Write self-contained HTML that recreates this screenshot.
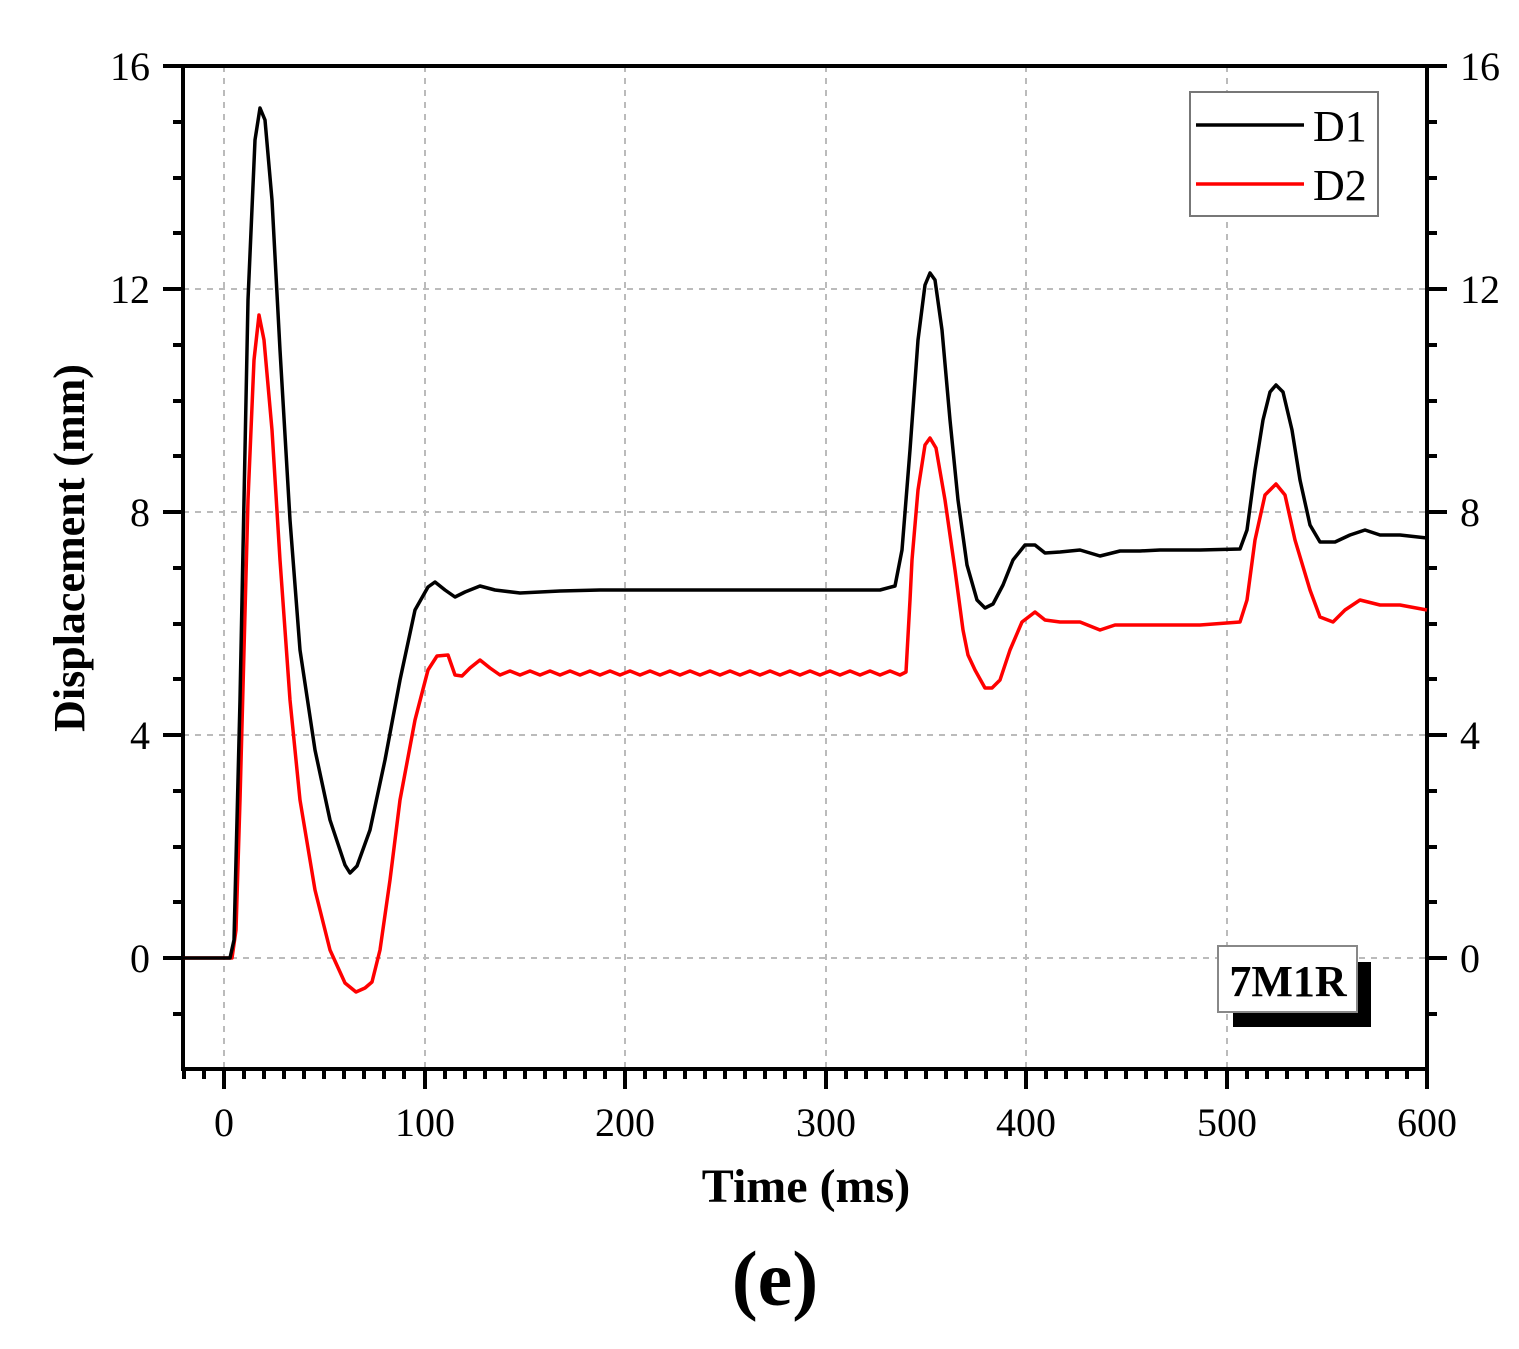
<!DOCTYPE html>
<html><head><style>body{margin:0;background:#fff}</style></head><body>
<svg width="1519" height="1344" xmlns="http://www.w3.org/2000/svg" font-family="Liberation Serif, serif">
<g stroke="#bbb" stroke-width="2" stroke-dasharray="6,6">
<line x1="224" y1="66" x2="224" y2="1069"/><line x1="425" y1="66" x2="425" y2="1069"/><line x1="625" y1="66" x2="625" y2="1069"/><line x1="826" y1="66" x2="826" y2="1069"/><line x1="1026" y1="66" x2="1026" y2="1069"/><line x1="1227" y1="66" x2="1227" y2="1069"/>
<line x1="183" y1="289" x2="1427" y2="289"/><line x1="183" y1="512" x2="1427" y2="512"/><line x1="183" y1="735" x2="1427" y2="735"/><line x1="183" y1="958" x2="1427" y2="958"/>
</g>
<g stroke="#000" stroke-width="4">
<path d="M183 66h-20M183 122h-10M183 178h-10M183 233h-10M183 289h-20M183 345h-10M183 401h-10M183 456h-10M183 512h-20M183 568h-10M183 624h-10M183 679h-10M183 735h-20M183 791h-10M183 847h-10M183 902h-10M183 958h-20M183 1014h-10"/>
<path d="M1427 66h20M1427 122h10M1427 178h10M1427 233h10M1427 289h20M1427 345h10M1427 401h10M1427 456h10M1427 512h20M1427 568h10M1427 624h10M1427 679h10M1427 735h20M1427 791h10M1427 847h10M1427 902h10M1427 958h20M1427 1014h10"/>
<path d="M184 1069v10M204 1069v10M224 1069v20M244 1069v10M264 1069v10M284 1069v10M304 1069v10M324 1069v10M344 1069v10M364 1069v10M384 1069v10M404 1069v10M425 1069v20M445 1069v10M465 1069v10M485 1069v10M505 1069v10M525 1069v10M545 1069v10M565 1069v10M585 1069v10M605 1069v10M625 1069v20M645 1069v10M665 1069v10M685 1069v10M705 1069v10M725 1069v10M745 1069v10M765 1069v10M785 1069v10M805 1069v10M826 1069v20M846 1069v10M866 1069v10M886 1069v10M906 1069v10M926 1069v10M946 1069v10M966 1069v10M986 1069v10M1006 1069v10M1026 1069v20M1046 1069v10M1066 1069v10M1086 1069v10M1106 1069v10M1126 1069v10M1146 1069v10M1166 1069v10M1186 1069v10M1206 1069v10M1227 1069v20M1247 1069v10M1267 1069v10M1287 1069v10M1307 1069v10M1327 1069v10M1347 1069v10M1367 1069v10M1387 1069v10M1407 1069v10M1427 1069v20"/>
</g>
<rect x="183" y="66" width="1244" height="1003" fill="none" stroke="#000" stroke-width="4"/>
<polyline fill="none" stroke="#f00" stroke-width="3.5" stroke-linejoin="round" points="183,958 232,958 236,930 240,800 248,500 254,360 259,315 264,340 272,430 280,560 290,700 300,800 315,890 330,950 345,983 356,992 365,988 372,982 380,950 390,880 400,800 415,720 428,670 437,656 448,655 455,675 462,676 470,668 480,660 490,668 500,675 510,671 520,675 530,671 540,675 550,671 560,675 570,671 580,675 590,671 600,675 610,671 620,675 630,671 640,675 650,671 660,675 670,671 680,675 690,671 700,675 710,671 720,675 730,671 740,675 750,671 760,675 770,671 780,675 790,671 800,675 810,671 820,675 830,671 840,675 850,671 860,675 870,671 880,675 890,671 900,675 906,672 910,600 912,560 918,490 925,445 930,438 936,448 945,500 955,570 963,630 968,655 975,670 985,688 992,688 1000,680 1010,650 1022,622 1035,612 1045,620 1060,622 1080,622 1100,630 1115,625 1130,625 1160,625 1200,625 1240,622 1247,600 1255,540 1265,495 1276,484 1285,495 1295,540 1310,590 1320,617 1333,622 1345,610 1360,600 1380,605 1400,605 1427,610"/>
<polyline fill="none" stroke="#000" stroke-width="3.5" stroke-linejoin="round" points="183,958 230,958 234,940 240,700 248,300 255,140 260,108 265,120 272,200 280,350 290,520 300,650 315,750 330,820 345,865 350,873 357,866 370,830 385,760 400,680 415,610 428,587 435,582 445,590 455,597 465,592 480,586 495,590 520,593 560,591 600,590 700,590 800,590 880,590 895,586 902,550 910,450 918,340 925,285 930,273 935,280 942,330 950,420 958,500 967,565 977,600 985,608 993,604 1003,585 1013,560 1025,545 1035,545 1045,553 1060,552 1080,550 1100,556 1120,551 1140,551 1160,550 1200,550 1240,549 1247,530 1255,470 1263,420 1270,392 1276,385 1283,392 1292,430 1300,480 1310,525 1320,542 1335,542 1350,535 1365,530 1380,535 1400,535 1427,538"/>
<rect x="1190" y="92" width="188" height="124" fill="#fff" stroke="#777" stroke-width="2"/>
<line x1="1196" y1="125" x2="1304" y2="125" stroke="#000" stroke-width="3.5"/>
<line x1="1196" y1="184" x2="1304" y2="184" stroke="#f00" stroke-width="3.5"/>
<text x="1313" y="141" font-size="44">D1</text><text x="1313" y="200" font-size="44">D2</text>
<rect x="1233" y="962" width="138" height="65" fill="#000"/>
<rect x="1218" y="946" width="139" height="66" fill="#fff" stroke="#888" stroke-width="2"/>
<text x="1288" y="996" font-size="44" font-weight="bold" text-anchor="middle">7M1R</text>
<g font-size="40" text-anchor="end">
<text x="150" y="80">16</text><text x="150" y="303">12</text><text x="150" y="526">8</text><text x="150" y="749">4</text><text x="150" y="972">0</text>
</g>
<g font-size="40">
<text x="1460" y="80">16</text><text x="1460" y="303">12</text><text x="1460" y="526">8</text><text x="1460" y="749">4</text><text x="1460" y="972">0</text>
</g>
<g font-size="40" text-anchor="middle">
<text x="224" y="1136">0</text><text x="425" y="1136">100</text><text x="625" y="1136">200</text><text x="826" y="1136">300</text><text x="1026" y="1136">400</text><text x="1227" y="1136">500</text><text x="1427" y="1136">600</text>
</g>
<text x="806" y="1202" font-size="48" font-weight="bold" text-anchor="middle">Time (ms)</text>
<text transform="translate(84,548) rotate(-90)" font-size="44" font-weight="bold" text-anchor="middle">Displacement (mm)</text>
<text x="775" y="1305" font-size="78" font-weight="bold" text-anchor="middle">(e)</text>
</svg>
</body></html>
